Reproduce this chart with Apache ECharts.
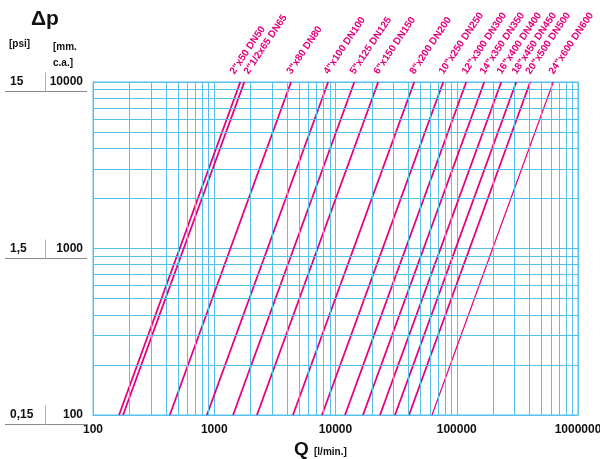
<!DOCTYPE html>
<html>
<head>
<meta charset="utf-8">
<script src="https://cdn.jsdelivr.net/npm/echarts@6/dist/echarts.min.js"></script>
<style>
html, body { margin: 0; padding: 0; background: #fff; }
#main { width: 600px; height: 459px; }
</style>
</head>
<body>
<div id="main"></div>
<script>
// diametri nominali
var sizes = ['2"x50 DN50', '2"1/2x65 DN65', '3"x80 DN80', '4"x100 DN100', '5"x125 DN125',
    '6"x150 DN150', '8"x200 DN200', '10"x250 DN250', '12"x300 DN300', '14"x350 DN350',
    '16"x400 DN400', '18"x450 DN450', '20"x500 DN500', '24"x600 DN600'];
// portata Q [l/min] letta a 100 e a 10000 mm c.a.
var qBottom = [164, 177, 430, 870, 1430, 2250, 4460, 7740, 11980, 16860, 23280, 30960, 40370, 62520];
var qTop = [1640, 1770, 4300, 8700, 14300, 22500, 44600, 77400, 119800, 168600, 232800, 309600, 403700, 625200];
var dpBottom = 100, dpTop = 10000;

// etichette asse y
var yTicks = [100, 1000, 10000];
var psiLabels = ['0,15', '1,5', '15'];

// linee secondarie della griglia
var xMinor = [200, 300, 400, 500, 600, 700, 800, 900,
    2000, 3000, 4000, 5000, 6000, 7000, 8000, 9000,
    20000, 30000, 40000, 50000, 60000, 70000, 80000, 90000,
    200000, 300000, 400000, 500000, 600000, 700000, 800000, 900000];
var yMinor = [200, 300, 400, 500, 600, 700, 800, 900,
    2000, 3000, 4000, 5000, 6000, 7000, 8000, 9000];

var MAG = '#e5007e';
var BLUE = '#56bfea';
var FONT = 'Liberation Sans, Arial, sans-serif';

var myChart = echarts.init(document.getElementById('main'));

var series = [];

// griglia secondaria
series.push({
    type: 'line',
    data: [],
    silent: true,
    z: 1,
    markLine: {
        silent: true,
        symbol: ['none', 'none'],
        label: { show: false },
        animation: false,
        lineStyle: { color: BLUE, width: 1, type: 'solid' },
        emphasis: { disabled: true },
        data: xMinor.map(function (v) { return { xAxis: v }; })
            .concat(yMinor.map(function (v) { return { yAxis: v }; }))
    }
});

// curve perdita di carico
sizes.forEach(function (name, i) {
    series.push({
        name: name,
        type: 'line',
        z: 3,
        symbol: 'none',
        silent: true,
        lineStyle: { color: MAG, width: i === sizes.length - 1 ? 1.2 : 1.8 },
        data: [[qBottom[i], dpBottom], [qTop[i], dpTop]]
    });
});

// etichette delle curve
series.push({
    type: 'custom',
    z: 4,
    silent: true,
    data: sizes.map(function (name, i) { return [qTop[i], dpTop, i]; }),
    renderItem: function (params, api) {
        var p = api.coord([api.value(0), api.value(1)]);
        var i = api.value(2);
        // le prime due curve sono vicine: etichette distanziate
        var dx = i === 0 ? -4 : (i === 1 ? 6 : 2);
        return {
            type: 'text',
            x: p[0] + dx,
            y: p[1] - 6,
            rotation: 56 * Math.PI / 180,
            style: {
                text: sizes[i],
                fill: MAG,
                fontSize: 10,
                fontWeight: 'bold',
                fontFamily: FONT,
                align: 'left',
                verticalAlign: 'bottom'
            }
        };
    }
});

// tabella psi / mm c.a.
series.push({
    type: 'custom',
    z: 4,
    silent: true,
    clip: false,
    data: yTicks.map(function (v) { return [100, v]; }),
    renderItem: function (params, api) {
        var p = api.coord([api.value(0), api.value(1)]);
        var y = Math.round(p[1]) + 9.5;
        return {
            type: 'group',
            children: [
                { type: 'line', shape: { x1: 5, y1: y, x2: 87, y2: y }, style: { stroke: '#8a8a8a', lineWidth: 1 } },
                { type: 'line', shape: { x1: 45.5, y1: y - 19, x2: 45.5, y2: y }, style: { stroke: '#b0b0b0', lineWidth: 1 } }
            ]
        };
    }
});

var option = {
    animation: false,
    grid: {
        left: 93, right: 22, top: 82, bottom: 44,
        outerBoundsMode: 'none',
        containLabel: false,
        show: true, borderColor: BLUE, borderWidth: 1
    },
    xAxis: {
        type: 'log',
        logBase: 10,
        min: 100,
        max: 1000000,
        axisLine: { lineStyle: { color: BLUE } },
        axisTick: { show: false },
        splitLine: { show: true, lineStyle: { color: BLUE, width: 1 } },
        axisLabel: {
            color: '#111', fontWeight: 'bold', fontSize: 12, fontFamily: FONT, margin: 9,
            formatter: function (v) { return String(Math.round(v)); }
        }
    },
    yAxis: {
        type: 'log',
        logBase: 10,
        min: 100,
        max: 10000,
        axisLine: { lineStyle: { color: BLUE } },
        axisTick: { show: false },
        splitLine: { show: true, lineStyle: { color: BLUE, width: 1 } },
        axisLabel: {
            margin: 10,
            formatter: function (v) {
                var r = Math.round(v);
                var i = yTicks.indexOf(r);
                return '{p|' + (i >= 0 ? psiLabels[i] : '') + '}{m|' + r + '}';
            },
            rich: {
                p: { width: 35, align: 'left', color: '#111', fontWeight: 'bold', fontSize: 12, fontFamily: FONT },
                m: { width: 38, align: 'right', color: '#111', fontWeight: 'bold', fontSize: 12, fontFamily: FONT }
            }
        }
    },
    graphic: [
        { type: 'text', left: 31, top: 9, style: { text: 'Δp', fill: '#111', font: 'bold 21px ' + FONT } },
        { type: 'text', left: 9, top: 39, style: { text: '[psi]', fill: '#111', font: 'bold 10px ' + FONT } },
        { type: 'text', left: 53, top: 39, style: { text: '[mm.\nc.a.]', fill: '#111', font: 'bold 10px ' + FONT, lineHeight: 16 } },
        { type: 'text', left: 294, top: 440, style: { text: 'Q', fill: '#111', font: 'bold 19px ' + FONT } },
        { type: 'text', left: 314, top: 447, style: { text: '[l/min.]', fill: '#111', font: 'bold 10px ' + FONT } }
    ],
    series: series
};

myChart.setOption(option);
</script>
</body>
</html>
